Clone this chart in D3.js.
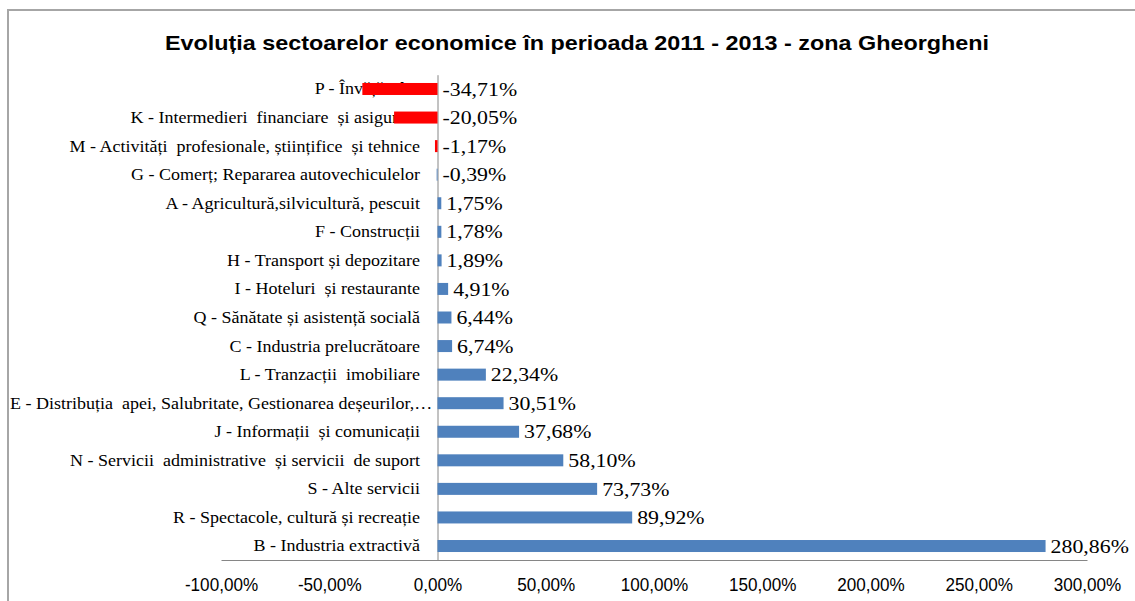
<!DOCTYPE html>
<html>
<head>
<meta charset="utf-8">
<script src="https://cdn.jsdelivr.net/npm/d3@7"></script>
<style>
  body { margin: 0; background: #fff; }
  svg text { white-space: pre; }
</style>
</head>
<body>
<div id="chart"></div>
<script>
const title = "Evoluția sectoarelor economice în perioada 2011 - 2013 - zona Gheorgheni";

const sectors = [
  "P - Învățământ",
  "K - Intermedieri  financiare  și asigurare",
  "M - Activități  profesionale, științifice  și tehnice",
  "G - Comerț; Repararea autovechiculelor",
  "A - Agricultură,silvicultură, pescuit",
  "F - Construcții",
  "H - Transport și depozitare",
  "I - Hoteluri  și restaurante",
  "Q - Sănătate și asistență socială",
  "C - Industria prelucrătoare",
  "L - Tranzacții  imobiliare",
  "E - Distribuția  apei, Salubritate, Gestionarea deșeurilor,…",
  "J - Informații  și comunicații",
  "N - Servicii  administrative  și servicii  de suport",
  "S - Alte servicii",
  "R - Spectacole, cultură și recreație",
  "B - Industria extractivă"
];

const change = [-34.71, -20.05, -1.17, -0.39, 1.75, 1.78, 1.89, 4.91, 6.44, 6.74,
                22.34, 30.51, 37.68, 58.10, 73.73, 89.92, 280.86];

const xTicks = [-100, -50, 0, 50, 100, 150, 200, 250, 300];

const w = 1135, h = 601;
const fmt = v => v.toFixed(2).replace(".", ",") + "%";

const svg = d3.select("#chart").append("svg")
  .attr("width", w).attr("height", h);

// chart frame (cropped on the right and bottom)
svg.append("path")
  .attr("d", "M8,601 L8,10 L1135,10")
  .attr("fill", "none")
  .attr("stroke", "#a6a6a6")
  .attr("stroke-width", 2);

svg.append("text")
  .attr("x", 577).attr("y", 50)
  .attr("text-anchor", "middle")
  .attr("font-family", "Liberation Sans, Arial, sans-serif")
  .attr("font-weight", "bold")
  .attr("font-size", 21)
  .attr("textLength", 824)
  .attr("lengthAdjust", "spacingAndGlyphs")
  .attr("fill", "#000")
  .text(title);

const x = d3.scaleLinear().domain([-100, 300]).range([221, 1087]);
const y = d3.scaleBand().domain(sectors).range([74.7, 560.3])
  .paddingInner(0.58).paddingOuter(0.29);

const colour = d3.scaleThreshold().domain([-1]).range(["#ff0000", "#4f81bd"]);

// bottom value axis
const tickSx = 0.9;
const xAxis = svg.append("g")
  .attr("transform", "translate(0,560)")
  .call(d3.axisBottom(x).tickValues(xTicks).tickFormat(fmt).tickSize(0).tickPadding(18));
xAxis.select(".domain").attr("stroke", "#868686");
xAxis.selectAll("text")
  .attr("font-family", "Liberation Sans, Arial, sans-serif")
  .attr("font-size", 19)
  .attr("fill", "#000")
  .attr("transform", "scale(" + tickSx + ",1)");

// category axis at zero
const catSx = 1.06;
const catPad = 17.5;
const yAxis = svg.append("g")
  .attr("transform", "translate(" + x(0) + ",0)")
  .call(d3.axisLeft(y).tickSize(0).tickPadding(catPad));
yAxis.select(".domain").attr("stroke", "#868686");
yAxis.selectAll("text")
  .attr("font-family", "Liberation Serif, Times New Roman, serif")
  .attr("font-size", 17)
  .attr("fill", "#000")
  .attr("x", -catPad / catSx)
  .attr("transform", "scale(" + catSx + ",1)");

// a label too long for the space is pushed right, up to the frame
yAxis.selectAll("text").each(function() {
  const left = this.getBoundingClientRect().left;
  if (left < 10) {
    d3.select(this).attr("x", (-catPad + (10 - left)) / catSx);
  }
});

svg.selectAll("rect.bar")
  .data(change)
  .enter()
  .append("rect")
  .attr("class", "bar")
  .attr("x", d => x(Math.min(0, d)))
  .attr("y", (d, i) => y(sectors[i]))
  .attr("width", d => Math.abs(x(d) - x(0)))
  .attr("height", y.bandwidth())
  .attr("fill", d => colour(d));

// data labels, right of the bar end (or of the zero line for negatives)
const valSx = 1.15;
svg.selectAll("g.val")
  .data(change)
  .enter()
  .append("g")
  .attr("class", "val")
  .attr("transform", (d, i) => "translate(" + (x(Math.max(0, d)) + 5) + "," + (y(sectors[i]) + y.bandwidth() / 2) + ")")
  .append("text")
  .attr("transform", "scale(" + valSx + ",1)")
  .attr("dy", "0.35em")
  .attr("font-family", "Liberation Serif, Times New Roman, serif")
  .attr("font-size", 19)
  .attr("fill", "#000")
  .text(fmt);
</script>
</body>
</html>
